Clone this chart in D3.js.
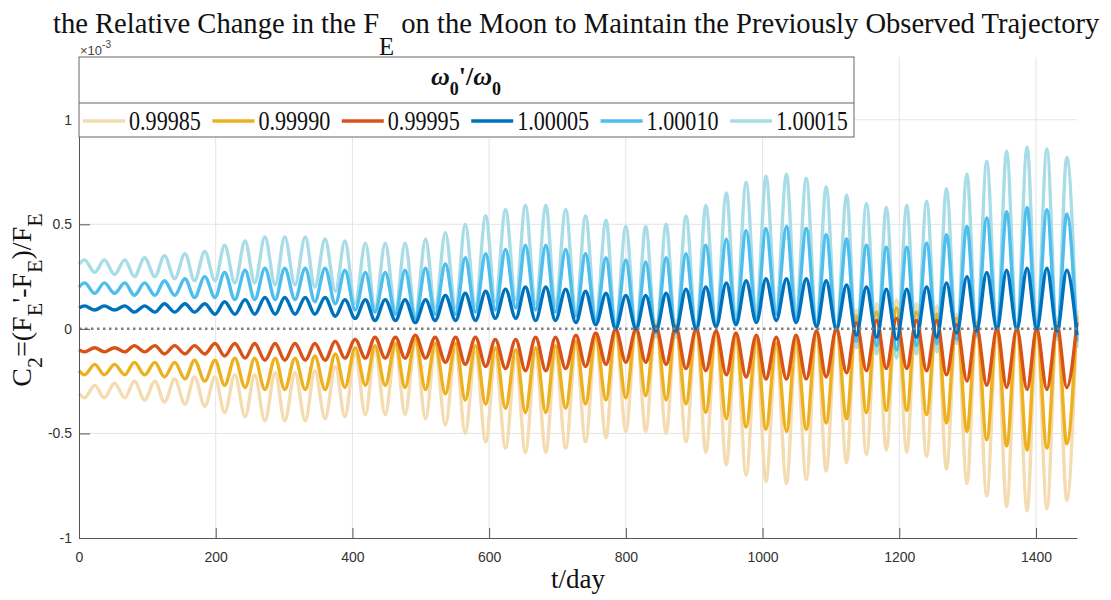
<!DOCTYPE html>
<html lang="en">
<head>
<meta charset="UTF-8">
<title>Relative change in F_E</title>
<script src="https://cdn.jsdelivr.net/npm/d3@7"></script>
<style>
  body { margin: 0; background: #fff; }
  .serif { font-family: 'Liberation Serif', 'Times New Roman', serif; fill: #111; }
  .tick text { font-family: 'Liberation Sans', Arial, sans-serif; font-size: 14px; fill: #333; }
  .tick line, .domain { stroke: #555; }
</style>
</head>
<body>
<svg id="chart" width="1111" height="600"></svg>
<script>
// days of the two kinds of extrema (about one synodic month apart)
const daysA = [8, 37, 67, 96, 125, 155, 184, 213, 243, 272, 301, 331, 360, 389, 419, 448, 477, 507, 536, 565,
  595, 624, 653, 683, 712, 741, 771, 800, 829, 859, 888, 917, 947, 976, 1005, 1035, 1064, 1093, 1123, 1152,
  1181, 1211, 1240, 1269, 1299, 1328, 1357, 1387, 1416, 1445];
const daysB = [23, 52, 81, 111, 140, 169, 199, 228, 257, 287, 316, 345, 375, 404, 433, 463, 492, 521, 551, 580,
  609, 639, 668, 697, 727, 756, 785, 815, 844, 873, 903, 932, 961, 991, 1020, 1049, 1079, 1108, 1137, 1167,
  1196, 1225, 1255, 1284, 1313, 1343, 1372, 1401, 1431, 1460];

const ratios = ['0.99985', '0.99990', '0.99995', '1.00005', '1.00010', '1.00015'];
const colors = ['#f4dbb0', '#edb120', '#d95319', '#0072bd', '#4dbeee', '#a8dce6'];
const startValues = [-0.31, -0.20, -0.10, 0.10, 0.20, 0.31];

// C2 values (x 1e-3) at daysA / daysB
const c2_099985_A = [-0.33,-0.33,-0.33,-0.34,-0.35,-0.36,-0.37,-0.40,-0.42,-0.44,
  -0.44,-0.44,-0.43,-0.42,-0.41,-0.41,-0.41,-0.43,-0.46,-0.50,
  -0.54,-0.57,-0.59,-0.59,-0.57,-0.54,-0.52,-0.49,-0.49,-0.50,
  -0.54,-0.59,-0.65,-0.70,-0.73,-0.74,-0.72,-0.68,-0.64,-0.60,
  -0.58,-0.59,-0.61,-0.67,-0.74,-0.80,-0.85,-0.87,-0.86,-0.82];
const c2_099985_B = [-0.27,-0.26,-0.25,-0.25,-0.24,-0.23,-0.23,-0.22,-0.22,-0.21,
  -0.21,-0.20,-0.18,-0.12,-0.10,-0.09,-0.07,-0.10,-0.10,-0.11,
  -0.13,-0.14,-0.12,-0.11,-0.08,-0.05,0.00,0.02,0.04,0.04,
  0.02,-0.01,-0.04,-0.07,-0.09,-0.07,-0.01,0.02,0.09,0.12,
  0.14,0.12,0.11,0.07,0.04,0.02,0.02,0.02,0.05,0.09];

const c2_099990_A = [-0.22,-0.22,-0.22,-0.22,-0.23,-0.24,-0.25,-0.27,-0.28,-0.29,
  -0.29,-0.29,-0.29,-0.28,-0.27,-0.27,-0.28,-0.29,-0.31,-0.34,
  -0.36,-0.38,-0.40,-0.40,-0.38,-0.36,-0.34,-0.33,-0.32,-0.34,
  -0.36,-0.40,-0.43,-0.47,-0.48,-0.49,-0.48,-0.45,-0.43,-0.40,
  -0.39,-0.39,-0.41,-0.45,-0.49,-0.53,-0.56,-0.58,-0.57,-0.55];
const c2_099990_B = [-0.17,-0.17,-0.16,-0.16,-0.16,-0.15,-0.15,-0.14,-0.14,-0.14,
  -0.14,-0.13,-0.12,-0.09,-0.08,-0.07,-0.05,-0.07,-0.07,-0.08,
  -0.09,-0.10,-0.09,-0.08,-0.06,-0.04,-0.01,0.01,0.02,0.02,
  0.01,-0.01,-0.03,-0.05,-0.07,-0.05,-0.01,0.01,0.06,0.08,
  0.10,0.08,0.07,0.05,0.03,0.01,0.01,0.01,0.03,0.06];

const c2_099995_A = [-0.11,-0.11,-0.11,-0.11,-0.12,-0.12,-0.12,-0.13,-0.14,-0.15,
  -0.15,-0.15,-0.15,-0.14,-0.14,-0.14,-0.14,-0.14,-0.16,-0.17,
  -0.18,-0.19,-0.20,-0.20,-0.19,-0.18,-0.17,-0.16,-0.16,-0.17,
  -0.19,-0.20,-0.22,-0.23,-0.24,-0.24,-0.24,-0.23,-0.21,-0.20,
  -0.19,-0.19,-0.20,-0.22,-0.25,-0.27,-0.28,-0.29,-0.29,-0.28];
const c2_099995_B = [-0.09,-0.09,-0.08,-0.08,-0.08,-0.08,-0.07,-0.07,-0.07,-0.07,
  -0.07,-0.07,-0.06,-0.05,-0.04,-0.04,-0.03,-0.04,-0.04,-0.04,
  -0.05,-0.05,-0.04,-0.04,-0.03,-0.02,0.00,0.00,0.01,0.01,
  0.00,-0.01,-0.02,-0.03,-0.04,-0.03,-0.01,0.00,0.03,0.04,
  0.05,0.04,0.04,0.02,0.01,0.00,0.00,0.00,0.01,0.03];

const c2_100005_A = [0.11,0.11,0.11,0.11,0.12,0.12,0.12,0.13,0.14,0.15,
  0.15,0.15,0.15,0.14,0.14,0.14,0.14,0.14,0.16,0.17,
  0.18,0.19,0.20,0.20,0.19,0.18,0.17,0.16,0.16,0.17,
  0.19,0.20,0.22,0.23,0.24,0.24,0.24,0.23,0.21,0.20,
  0.19,0.19,0.20,0.22,0.25,0.27,0.28,0.29,0.29,0.28];
const c2_100005_B = [0.09,0.09,0.08,0.08,0.08,0.08,0.07,0.07,0.07,0.07,
  0.07,0.07,0.06,0.05,0.04,0.04,0.03,0.04,0.04,0.04,
  0.05,0.05,0.04,0.04,0.03,0.02,0.00,0.00,-0.01,-0.01,
  0.00,0.01,0.02,0.03,0.04,0.03,0.01,0.00,-0.03,-0.04,
  -0.05,-0.04,-0.04,-0.02,-0.01,0.00,0.00,0.00,-0.01,-0.03];

const c2_100010_A = [0.22,0.22,0.22,0.22,0.23,0.24,0.25,0.27,0.28,0.29,
  0.29,0.29,0.29,0.28,0.27,0.27,0.28,0.29,0.31,0.34,
  0.36,0.38,0.40,0.40,0.38,0.36,0.34,0.33,0.32,0.34,
  0.36,0.40,0.43,0.47,0.48,0.49,0.48,0.45,0.43,0.40,
  0.39,0.39,0.41,0.45,0.49,0.53,0.56,0.58,0.57,0.55];
const c2_100010_B = [0.17,0.17,0.16,0.16,0.16,0.15,0.15,0.14,0.14,0.14,
  0.14,0.13,0.12,0.09,0.08,0.07,0.05,0.07,0.07,0.08,
  0.09,0.10,0.09,0.08,0.06,0.04,0.01,-0.01,-0.02,-0.02,
  -0.01,0.01,0.03,0.05,0.07,0.05,0.01,-0.01,-0.06,-0.08,
  -0.10,-0.08,-0.07,-0.05,-0.03,-0.01,-0.01,-0.01,-0.03,-0.06];

const c2_100015_A = [0.33,0.33,0.33,0.34,0.35,0.36,0.37,0.40,0.42,0.44,
  0.44,0.44,0.43,0.42,0.41,0.41,0.41,0.43,0.46,0.50,
  0.54,0.57,0.59,0.59,0.57,0.54,0.52,0.49,0.49,0.50,
  0.54,0.59,0.65,0.70,0.73,0.74,0.72,0.68,0.64,0.60,
  0.58,0.59,0.61,0.67,0.74,0.80,0.85,0.87,0.86,0.82];
const c2_100015_B = [0.27,0.26,0.25,0.25,0.24,0.23,0.23,0.22,0.22,0.21,
  0.21,0.20,0.18,0.12,0.10,0.09,0.07,0.10,0.10,0.11,
  0.13,0.14,0.12,0.11,0.08,0.05,0.00,-0.02,-0.04,-0.04,
  -0.02,0.01,0.04,0.07,0.09,0.07,0.01,-0.02,-0.09,-0.12,
  -0.14,-0.12,-0.11,-0.07,-0.04,-0.02,-0.02,-0.02,-0.05,-0.09];

const seriesA = [c2_099985_A, c2_099990_A, c2_099995_A, c2_100005_A, c2_100010_A, c2_100015_A];
const seriesB = [c2_099985_B, c2_099990_B, c2_099995_B, c2_100005_B, c2_100010_B, c2_100015_B];

const xTicks = [0, 200, 400, 600, 800, 1000, 1200, 1400];
const yTicks = [-1, -0.5, 0, 0.5, 1];

// ---- layout
const svg = d3.select('#chart');
const plotLeft = 79, plotRight = 1077, plotTop = 57, plotBottom = 538;

const x = d3.scaleLinear().domain([0, 1460]).range([plotLeft, plotRight]);
const y = d3.scaleLinear().domain([-1, 1.3]).range([plotBottom, plotTop]);

// grid
svg.append('g').selectAll('line').data(xTicks.slice(1)).join('line')
  .attr('x1', d => x(d)).attr('x2', d => x(d)).attr('y1', plotBottom).attr('y2', plotTop)
  .attr('stroke', '#e4e4e4');
svg.append('g').selectAll('line').data([-0.5, 0.5, 1]).join('line')
  .attr('x1', plotLeft).attr('x2', plotRight).attr('y1', d => y(d)).attr('y2', d => y(d))
  .attr('stroke', '#e4e4e4');

// series
const line = d3.line().x(d => x(d[0])).y(d => y(d[1])).curve(d3.curveMonotoneX);
const drawOrder = [0, 5, 1, 4, 2, 3];
drawOrder.forEach(i => {
  const pts = [[0, startValues[i]]];
  daysA.forEach((t, k) => pts.push([t, seriesA[i][k]]));
  daysB.forEach((t, k) => pts.push([t, seriesB[i][k]]));
  pts.sort((a, b) => a[0] - b[0]);
  svg.append('path').datum(pts)
    .attr('d', line)
    .attr('fill', 'none')
    .attr('stroke', colors[i])
    .attr('stroke-width', 3.4)
    .attr('stroke-linejoin', 'round');
});

// zero reference line
svg.append('line')
  .attr('x1', plotLeft).attr('x2', plotRight).attr('y1', y(0)).attr('y2', y(0))
  .attr('stroke', '#808080').attr('stroke-width', 2.5)
  .attr('stroke-dasharray', '2.5,3.5');

// axes
svg.append('g').attr('transform', `translate(0,${plotBottom})`)
  .call(d3.axisBottom(x).tickValues(xTicks).tickFormat(d => String(d)).tickSize(-10).tickSizeOuter(0).tickPadding(14));
svg.append('g').attr('transform', `translate(${plotLeft},0)`)
  .call(d3.axisLeft(y).tickValues(yTicks).tickFormat(d => String(d)).tickSize(-11).tickSizeOuter(0).tickPadding(7));

// exponent label
const expo = svg.append('text')
  .attr('x', plotLeft + 1).attr('y', 55)
  .style('font-family', "'Liberation Sans', Arial, sans-serif").style('font-size', '13px').style('fill', '#444');
expo.append('tspan').text('\u00d710');
expo.append('tspan').attr('dy', -7).style('font-size', '10px').text('-3');

// legend
const leg = svg.append('g');
leg.append('rect').attr('x', plotLeft).attr('y', plotTop).attr('width', 775).attr('height', 80)
  .attr('fill', '#fff').attr('stroke', '#666');
leg.append('line').attr('x1', plotLeft).attr('x2', plotLeft + 775).attr('y1', plotTop + 46).attr('y2', plotTop + 46)
  .attr('stroke', '#666');
const lt = leg.append('text').attr('class', 'serif')
  .attr('x', plotLeft + 387).attr('y', 85).attr('text-anchor', 'middle')
  .style('font-size', '26px').style('font-weight', 'bold');
lt.append('tspan').style('font-style', 'italic').text('\u03c9');
lt.append('tspan').attr('dy', 10).style('font-size', '18px').text('0');
lt.append('tspan').attr('dy', -10).text("'/");
lt.append('tspan').style('font-style', 'italic').text('\u03c9');
lt.append('tspan').attr('dy', 10).style('font-size', '18px').text('0');

ratios.forEach((r, i) => {
  const x0 = 83 + 129.4 * i;
  leg.append('line').attr('x1', x0).attr('x2', x0 + 42).attr('y1', 121).attr('y2', 121)
    .attr('stroke', colors[i]).attr('stroke-width', 3.4);
  leg.append('text').attr('class', 'serif')
    .attr('transform', `translate(${x0 + 46},130) scale(0.82,1)`)
    .style('font-size', '27px').text(r);
});

// fit a text element horizontally to a target width
function fitWidth(sel, width) {
  const w = sel.node().getComputedTextLength();
  const tr = sel.attr('data-pos');
  sel.attr('transform', `${tr} scale(${width / w},1)`);
}

// title
const title = svg.append('text').attr('class', 'serif')
  .attr('data-pos', 'translate(53,33)').style('font-size', '30px');
title.append('tspan').text('the Relative Change in the F');
title.append('tspan').attr('dy', 22).style('font-size', '26px').text('E');
title.append('tspan').attr('dy', -22).text(' on the Moon to Maintain the Previously Observed Trajectory');
fitWidth(title, 1047);

// x label
svg.append('text').attr('class', 'serif')
  .attr('x', (plotLeft + plotRight) / 2).attr('y', 588).attr('text-anchor', 'middle')
  .style('font-size', '27px').text('t/day');

// y label: main parts and subscripts alternate
const ylParts = [['C', false], ['2', true], ['=(F', false], ['E', true], ["'-F", false], ['E', true], [')/F', false], ['E', true]];
const yl = svg.append('text').attr('class', 'serif')
  .attr('transform', 'translate(31,300) rotate(-90)').attr('text-anchor', 'middle')
  .style('font-size', '28px');
ylParts.forEach(([s, isSub], k) => {
  yl.append('tspan')
    .attr('dy', isSub ? 11 : (k === 0 ? 0 : -11))
    .style('font-size', isSub ? '22px' : null)
    .text(s);
});
</script>
</body>
</html>
